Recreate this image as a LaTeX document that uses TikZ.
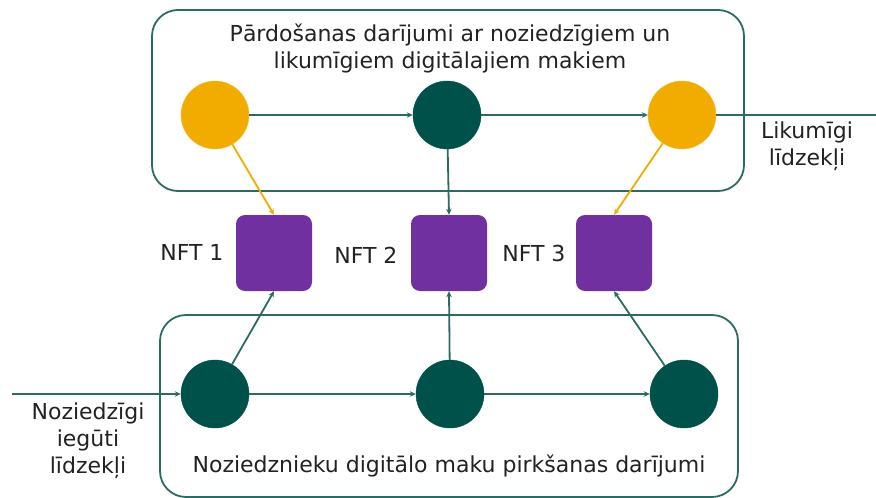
\documentclass[tikz,border=0pt]{standalone}
\usepackage{fontspec}
\setmainfont{DejaVu Sans}
\usetikzlibrary{arrows.meta}
\definecolor{orng}{HTML}{F2AC00}
\definecolor{dgreen}{HTML}{00514A}
\definecolor{purp}{HTML}{7030A0}
\definecolor{teal}{HTML}{2A6B62}
\definecolor{txt}{HTML}{222222}
\begin{document}
\begin{tikzpicture}[x=1pt,y=-1pt,
  grp/.style={draw=teal,line width=1.8pt,rounded corners=26pt},
  ocirc/.style={circle,fill=orng,draw=orng!80!white,minimum size=68pt,inner sep=0pt},
  gcirc/.style={circle,fill=dgreen,draw=dgreen,minimum size=68pt,inner sep=0pt},
  nft/.style={rectangle,rounded corners=9pt,fill=purp,minimum size=76pt,inner sep=0pt},
  lbl/.style={font=\fontsize{22}{27}\selectfont,text=txt,align=center},
  conn/.style={draw=teal,line width=1.8pt,-{Stealth[length=6pt,width=5.5pt]}},
  oconn/.style={draw=orng,line width=1.8pt,-{Stealth[length=6pt,width=5.5pt]}}]
\useasboundingbox (0,0) rectangle (876,498);
% group boxes
\draw[grp] (152,10) rectangle (744,191);
\draw[grp] (160,315) rectangle (738,497);
% top circles
\node[ocirc] (t1) at (215,115) {};
\node[gcirc] (t2) at (447,115) {};
\node[ocirc] (t3) at (682,115) {};
% bottom circles
\node[gcirc] (b1) at (215,394) {};
\node[gcirc] (b2) at (450,394) {};
\node[gcirc] (b3) at (684,394) {};
% NFT squares
\node[nft] (n1) at (274,253) {};
\node[nft] (n2) at (449,253) {};
\node[nft] (n3) at (614,253) {};
\node[lbl,anchor=east] (l1) at (227,252) {NFT 1};
\node[lbl,anchor=east] (l2) at (401,255) {NFT 2};
\node[lbl,anchor=east] (l3) at (569,253) {NFT 3};
% texts
\node[lbl] (title) at (450,48) {Pārdošanas darījumi ar noziedzīgiem un\\likumīgiem digitālajiem makiem};
\node[lbl] (legal) at (807,146) {Likumīgi\\līdzekļi};
\node[lbl] (crim) at (88,441) {Noziedzīgi\\iegūti\\līdzekļi};
\node[lbl] (btitle) at (449,466) {Noziedznieku digitālo maku pirkšanas darījumi};
\coordinate (inL) at (12,394);
\coordinate (outR) at (876,115);
% connectors top
\draw[conn] (t1) -- (t2);
\draw[conn] (t2) -- (t3);
\draw[draw=teal,line width=1.8pt] (t3.east) -- (outR);
\draw[oconn] (t1) -- (n1.north);
\draw[conn] (t2) -- (n2.north);
\draw[oconn] (t3) -- (n3.north);
% connectors bottom
\draw[conn] (inL) -- (b1);
\draw[conn] (b1) -- (b2);
\draw[conn] (b2) -- (b3);
\draw[conn] (b1) -- (n1.south);
\draw[conn] (b2) -- (n2.south);
\draw[conn] (b3) -- (n3.south);
\end{tikzpicture}
\end{document}
